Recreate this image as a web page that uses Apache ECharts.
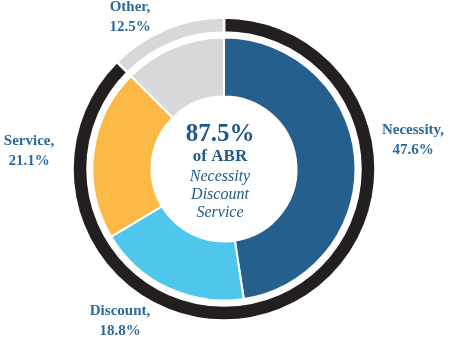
<!DOCTYPE html>
<html>
<head>
<meta charset="utf-8">
<style>
  html, body { margin: 0; padding: 0; background: #ffffff; }
  #chart { width: 453px; height: 341px; }
</style>
<script src="https://cdn.jsdelivr.net/npm/echarts@6/dist/echarts.min.js"></script>
</head>
<body>
<div id="chart"></div>
<script>
// Share of annualized base rent by tenant category
const categories = ['Necessity', 'Discount', 'Service', 'Other'];
const shares = [47.6, 18.8, 21.1, 12.5];
const sliceColors = ['#245F8E', '#4FC6EB', '#FDB945', '#D8D8D8'];

// Outer ring: the three core categories grouped against "Other"
const ringNames = ['Necessity Discount Service', 'Other'];
const ringColors = ['#231F20', '#D8D8D8'];
const coreShare = +(shares[0] + shares[1] + shares[2]).toFixed(1);
const ringShares = [coreShare, shares[3]];

// Where each category label sits (block centre)
const labelSpots = [[413, 140], [120, 321], [29, 151], [130, 17]];

const SERIF = '"Liberation Serif", "DejaVu Serif", serif';
const LABEL_BLUE = '#2C6899';
const CENTER_BLUE = '#1F5A8A';

const chart = echarts.init(document.getElementById('chart'), null, { renderer: 'canvas' });

chart.setOption({
  animation: false,
  series: [
    {
      type: 'pie',
      name: 'Category',
      center: [224, 169],
      radius: [72.5, 131.5],
      startAngle: 90,
      clockwise: true,
      avoidLabelOverlap: false,
      silent: true,
      itemStyle: { borderColor: '#ffffff', borderWidth: 2 },
      label: {
        show: true,
        position: 'outside',
        formatter: p => p.name + ',\n' + p.value.toFixed(1) + '%',
        fontFamily: SERIF,
        fontWeight: 'bold',
        fontSize: 15,
        lineHeight: 19.5,
        color: LABEL_BLUE,
        align: 'center'
      },
      labelLine: { show: false },
      labelLayout: p => ({
        x: labelSpots[p.dataIndex][0],
        y: labelSpots[p.dataIndex][1],
        align: 'center',
        verticalAlign: 'middle'
      }),
      data: categories.map((name, i) => ({
        name: name,
        value: shares[i],
        itemStyle: { color: sliceColors[i] }
      }))
    },
    {
      type: 'pie',
      name: 'Group',
      center: [224, 169],
      radius: [136.5, 151.5],
      startAngle: 90,
      clockwise: true,
      silent: true,
      itemStyle: { borderColor: '#ffffff', borderWidth: 2.5 },
      label: { show: false },
      labelLine: { show: false },
      data: ringNames.map((name, i) => ({
        name: name,
        value: ringShares[i],
        itemStyle: { color: ringColors[i] }
      }))
    }
  ],
  graphic: [
    {
      type: 'text', x: 220, y: 134.5,
      style: {
        text: coreShare.toFixed(1) + '%',
        font: 'bold 25px ' + SERIF,
        fill: CENTER_BLUE, align: 'center', verticalAlign: 'middle'
      }
    },
    {
      type: 'text', x: 220, y: 157,
      style: {
        text: 'of ABR',
        font: 'bold 17px ' + SERIF,
        fill: CENTER_BLUE, align: 'center', verticalAlign: 'middle'
      }
    },
    {
      type: 'text', x: 220, y: 195,
      style: {
        text: 'Necessity\nDiscount\nService',
        font: 'italic 16px ' + SERIF,
        lineHeight: 18,
        fill: CENTER_BLUE, align: 'center', verticalAlign: 'middle'
      }
    }
  ]
});
</script>
</body>
</html>
